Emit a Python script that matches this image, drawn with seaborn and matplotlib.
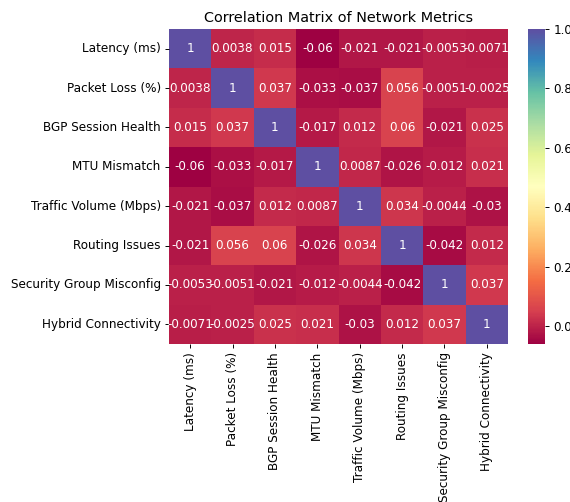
import numpy as np
import pandas as pd
import matplotlib
matplotlib.use("Agg")
import matplotlib.pyplot as plt
import seaborn as sns

metrics = [
    "Latency (ms)",
    "Packet Loss (%)",
    "BGP Session Health",
    "MTU Mismatch",
    "Traffic Volume (Mbps)",
    "Routing Issues",
    "Security Group Misconfig",
    "Hybrid Connectivity",
]

latency = [1, 0.0038, 0.015, -0.06, -0.021, -0.021, -0.0053, -0.0071]
packet_loss = [0.0038, 1, 0.037, -0.033, -0.037, 0.056, -0.0051, -0.0025]
bgp_health = [0.015, 0.037, 1, -0.017, 0.012, 0.06, -0.021, 0.025]
mtu_mismatch = [-0.06, -0.033, -0.017, 1, 0.0087, -0.026, -0.012, 0.021]
traffic_volume = [-0.021, -0.037, 0.012, 0.0087, 1, 0.034, -0.0044, -0.03]
routing_issues = [-0.021, 0.056, 0.06, -0.026, 0.034, 1, -0.042, 0.012]
sg_misconfig = [-0.0053, -0.0051, -0.021, -0.012, -0.0044, -0.042, 1, 0.037]
hybrid_conn = [-0.0071, -0.0025, 0.025, 0.021, -0.03, 0.012, 0.037, 1]

corr = pd.DataFrame(
    [latency, packet_loss, bgp_health, mtu_mismatch,
     traffic_volume, routing_issues, sg_misconfig, hybrid_conn],
    index=metrics, columns=metrics,
)

W, H = 570, 502
DPI = 86
fig = plt.figure(figsize=(W / DPI, H / DPI), dpi=DPI)
ax = fig.add_axes([169 / W, 1 - 344 / H, 339 / W, 315 / H])
cax = fig.add_axes([528 / W, 1 - 344 / H, 17 / W, 315 / H])

sns.heatmap(corr, annot=True, cmap="Spectral", ax=ax, cbar_ax=cax)
ax.set_title("Correlation Matrix of Network Metrics", fontsize=12)

fig.savefig("out.png", dpi=DPI)
